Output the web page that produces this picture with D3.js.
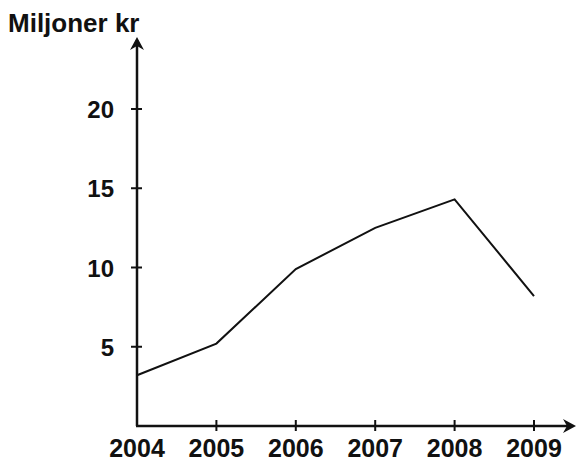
<!DOCTYPE html>
<html>
<head>
<meta charset="utf-8">
<script src="https://cdn.jsdelivr.net/npm/d3@7"></script>
<style>
  body { margin: 0; background: #fff; }
  text { font-family: "Liberation Sans", Arial, sans-serif; font-weight: bold; fill: #111; }
</style>
</head>
<body>
<div id="main"></div>
<script>
// data
var years = [2004, 2005, 2006, 2007, 2008, 2009];
var values = [3.2, 5.2, 9.9, 12.5, 14.3, 8.2];
var yTicks = [5, 10, 15, 20];

var width = 576, height = 463;

var svg = d3.select("#main")
    .append("svg")
    .attr("width", width)
    .attr("height", height);

// scales
var x = d3.scaleLinear().domain([2004, 2009]).range([137, 534]);
var y = d3.scaleLinear().domain([0, 20]).range([426, 109]);

var axisX = x(2004), axisY = y(0);

// axis lines
svg.append("line")
    .attr("x1", axisX).attr("x2", axisX)
    .attr("y1", axisY).attr("y2", 40)
    .attr("stroke", "#111").attr("stroke-width", 2.5);
svg.append("line")
    .attr("x1", axisX - 1).attr("x2", 572)
    .attr("y1", axisY).attr("y2", axisY)
    .attr("stroke", "#111").attr("stroke-width", 2.5);

// arrow heads
svg.append("path")
    .attr("d", "M" + axisX + ",37 L" + (axisX - 7) + ",50 L" + axisX + ",46 L" + (axisX + 7) + ",50 Z")
    .attr("fill", "#111");
svg.append("path")
    .attr("d", "M576," + axisY + " L563," + (axisY - 7) + " L567," + axisY + " L563," + (axisY + 7) + " Z")
    .attr("fill", "#111");

// y ticks
var yg = svg.append("g");
yg.selectAll("line").data(yTicks).enter().append("line")
    .attr("x1", axisX - 6).attr("x2", axisX + 5)
    .attr("y1", function (d) { return y(d); })
    .attr("y2", function (d) { return y(d); })
    .attr("stroke", "#111").attr("stroke-width", 2);
yg.selectAll("text").data(yTicks).enter().append("text")
    .attr("x", axisX - 23)
    .attr("y", function (d) { return y(d) + 9; })
    .attr("text-anchor", "end")
    .style("font-size", "24px")
    .text(function (d) { return d; });

// x ticks
var xg = svg.append("g");
xg.selectAll("line").data(years.slice(1)).enter().append("line")
    .attr("x1", function (d) { return x(d); })
    .attr("x2", function (d) { return x(d); })
    .attr("y1", axisY - 6).attr("y2", axisY + 5)
    .attr("stroke", "#111").attr("stroke-width", 2);
xg.selectAll("text").data(years).enter().append("text")
    .attr("x", function (d) { return x(d); })
    .attr("y", 457)
    .attr("text-anchor", "middle")
    .style("font-size", "25px")
    .text(function (d) { return d; });

// title
svg.append("text")
    .attr("x", 8).attr("y", 32)
    .style("font-size", "26px")
    .text("Miljoner kr");

// the line
var line = d3.line()
    .x(function (d, i) { return x(years[i]); })
    .y(function (d) { return y(d); });

svg.append("path")
    .datum(values)
    .attr("d", line)
    .attr("fill", "none")
    .attr("stroke", "#111")
    .attr("stroke-width", 2);
</script>
</body>
</html>
